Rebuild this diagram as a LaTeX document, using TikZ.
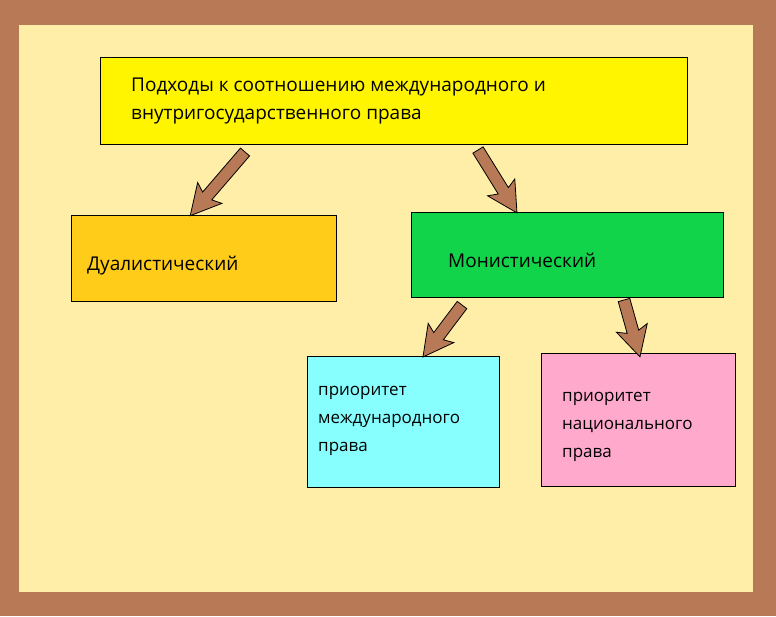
\documentclass[tikz,border=0pt]{standalone}
\usepackage{fontspec}
\setmainfont{Open Sans}
\definecolor{brn}{RGB}{184,122,86}
\definecolor{bg}{RGB}{255,238,168}
\definecolor{cyel}{RGB}{255,245,0}
\definecolor{corg}{RGB}{255,204,26}
\definecolor{cgrn}{RGB}{17,212,74}
\definecolor{ccyn}{RGB}{136,255,255}
\definecolor{cpnk}{RGB}{255,170,204}
\begin{document}
\begin{tikzpicture}[x=1pt,y=-1pt,
  box/.style={draw=black,line width=0.6pt},
  lbl/.style={anchor=west,align=left,inner sep=0pt,font=\fontsize{19}{28}\selectfont},
  lbls/.style={anchor=west,align=left,inner sep=0pt,font=\fontsize{17}{28}\selectfont},
  barrow/.style={fill=brn,draw=black,line width=0.8pt,line join=miter}]
\fill[brn] (0,0) rectangle (776,616);
\fill[bg] (19,25) rectangle (753,592);
\node[box,fill=cyel,minimum width=587pt,minimum height=87pt,anchor=north west] (top) at (100,57) {};
\node[lbl] (toptxt) at (131,100.5) {Подходы к соотношению международного и\\внутригосударственного права};
\node[box,fill=corg,minimum width=265pt,minimum height=86pt,anchor=north west] (dual) at (71,215) {};
\node[lbl] (dualtxt) at (87,266) {Дуалистический};
\node[box,fill=cgrn,minimum width=312pt,minimum height=85pt,anchor=north west] (mon) at (411,212) {};
\node[lbl] (montxt) at (448,260) {Монистический};
\node[box,fill=ccyn,minimum width=192pt,minimum height=131pt,anchor=north west] (intl) at (307,356) {};
\node[lbls] (intltxt) at (318,421) {приоритет\\международного\\права};
\node[box,fill=cpnk,minimum width=194pt,minimum height=133pt,anchor=north west] (nat) at (541,353) {};
\node[lbls] (nattxt) at (562,427) {приоритет\\национального\\права};
\def\barr#1#2#3{\begin{scope}[shift={#1},rotate=#2]
 \draw[barrow] (0,6)--(#3-26,6)--(#3-30,16)--(#3,0)--(#3-30,-16)--(#3-26,-6)--(0,-6)--cycle;
\end{scope}}
\barr{(245,152)}{229.3}{84}
\barr{(478,150)}{-58.2}{74}
\barr{(462,305)}{233.1}{65}
\barr{(624,300)}{-74.3}{59}
\end{tikzpicture}
\end{document}
